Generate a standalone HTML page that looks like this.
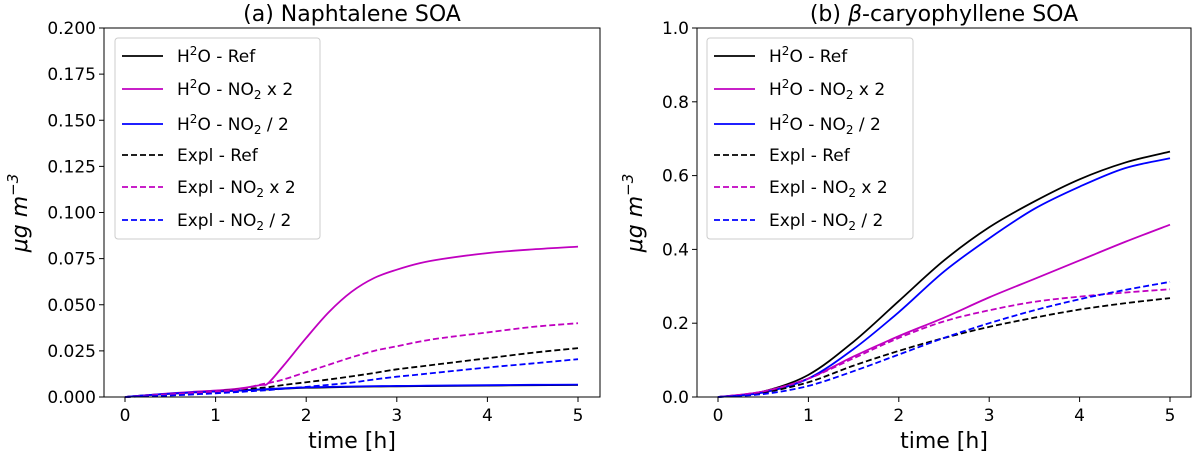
<!DOCTYPE html>
<html><head><meta charset="utf-8"><style>
body{margin:0;background:#fff}
svg text{font-family:"DejaVu Sans","Liberation Sans",sans-serif;fill:#000}
</style></head><body>
<svg id="c" width="1194" height="456" xmlns="http://www.w3.org/2000/svg"></svg>
<script>
const times=[0,0.5,1,1.5,2,2.5,3,3.5,4,4.5,5];
const naphTimes=[0,0.25,0.5,0.75,1,1.25,1.5,1.58,1.75,2,2.25,2.5,2.75,3,3.25,3.5,4,4.5,5];
const naphH2ORef=[0,0.001,0.0018,0.0025,0.003,0.0035,0.004,0.0041,0.0045,0.005,0.0052,0.0055,0.0057,0.0058,0.0059,0.006,0.0062,0.0064,0.0065];
const naphH2Ox2=[0,0.001,0.002,0.0028,0.0035,0.0045,0.0065,0.0075,0.017,0.032,0.046,0.057,0.0645,0.069,0.0725,0.0748,0.078,0.08,0.0815];
const naphH2Oh=[0,0.001,0.0018,0.0025,0.003,0.0035,0.0042,0.0043,0.0047,0.0052,0.0055,0.0057,0.0059,0.006,0.0061,0.0062,0.0064,0.0066,0.0067];
const naphExplRef=[0,0.0005,0.001,0.002,0.003,0.004,0.005,0.0053,0.0065,0.008,0.0095,0.0112,0.013,0.015,0.0165,0.018,0.021,0.024,0.0265];
const naphExplx2=[0,0.0008,0.0015,0.0022,0.003,0.004,0.0068,0.0075,0.0095,0.0135,0.0175,0.0215,0.025,0.0275,0.03,0.032,0.035,0.038,0.04];
const naphExplh=[0,0.0004,0.0008,0.0014,0.002,0.0027,0.0035,0.0037,0.0045,0.0055,0.0066,0.0078,0.0095,0.011,0.0122,0.0135,0.016,0.0182,0.0205];
const caryH2ORef=[0,0.015,0.06,0.15,0.26,0.37,0.46,0.53,0.59,0.635,0.665];
const caryH2Ox2=[0,0.015,0.05,0.11,0.165,0.215,0.27,0.32,0.37,0.42,0.467];
const caryH2Oh=[0,0.012,0.05,0.13,0.23,0.34,0.43,0.51,0.57,0.62,0.647];
const caryExplRef=[0,0.012,0.04,0.085,0.125,0.16,0.19,0.215,0.237,0.254,0.268];
const caryExplx2=[0,0.015,0.05,0.105,0.16,0.205,0.235,0.258,0.272,0.283,0.292];
const caryExplh=[0,0.008,0.03,0.07,0.115,0.16,0.2,0.235,0.265,0.29,0.312];
const naphYTicks=["0.000","0.025","0.050","0.075","0.100","0.125","0.150","0.175","0.200"];
const caryYTicks=["0.0","0.2","0.4","0.6","0.8","1.0"];
const xTicks=[0,1,2,3,4,5];

const svg=document.getElementById('c');
const NS='http://www.w3.org/2000/svg';
function mk(t,a,p){const e=document.createElementNS(NS,t);for(const k in a)e.setAttribute(k,a[k]);(p||svg).appendChild(e);return e;}

function panel(o){
  const g=mk('g',{});
  
  
  const sx=v=>o.x0+(v-0)/(5)*(o.x5-o.x0);
  const sy=v=>o.bottom-(v/o.ymax)*(o.bottom-o.top);
  o.series.forEach(s=>{
    const pts=s.t.map((t,i)=>[sx(t),sy(s.v[i])]);
    let d='M'+pts[0][0]+','+pts[0][1];
    for(let i=0;i<pts.length-1;i++){
      const p0=pts[Math.max(0,i-1)],p1=pts[i],p2=pts[i+1],p3=pts[Math.min(pts.length-1,i+2)];
      const c1=[p1[0]+(p2[0]-p0[0])/6,p1[1]+(p2[1]-p0[1])/6];
      const c2=[p2[0]-(p3[0]-p1[0])/6,p2[1]-(p3[1]-p1[1])/6];
      d+=' C'+c1+' '+c2+' '+p2;
    }
    const p=mk('path',{d:d,fill:'none',stroke:s.c,'stroke-width':1.8,'stroke-dasharray':s.dash?'6,3':'none'},g);
    
    
  });
  const fr=mk('rect',{x:o.left,y:o.top,width:o.right-o.left,height:o.bottom-o.top,fill:'none',stroke:'#000','stroke-width':1},g);
  
  
  xTicks.forEach(v=>{
    mk('line',{x1:sx(v),x2:sx(v),y1:o.bottom,y2:o.bottom+5,stroke:'#000'},g);
    const t=mk('text',{x:sx(v),y:o.bottom+24,'text-anchor':'middle','font-size':17},g);t.textContent=v;
    
    
  });
  o.yt.forEach((lab,i)=>{
    const v=o.ymax*i/(o.yt.length-1);
    mk('line',{x1:o.left-5,x2:o.left,y1:sy(v),y2:sy(v),stroke:'#000'},g);
    const t=mk('text',{x:o.left-8,y:sy(v)+6,'text-anchor':'end','font-size':17},g);t.textContent=lab;
    
    
  });
  const xl=mk('text',{x:(o.left+o.right)/2,y:448,'text-anchor':'middle','font-size':22},g);xl.textContent='time [h]';
  
  
  const yl=mk('text',{transform:`translate(${o.ylx},213) rotate(-90)`,'text-anchor':'middle','font-size':22,'font-style':'italic'},g);
  yl.innerHTML='μg  m<tspan dy="-9" font-size="15">−3</tspan>';
  
  
  const ti=mk('text',{x:(o.left+o.right)/2,y:21,'text-anchor':'middle','font-size':22},g);ti.innerHTML=o.title;
  
  
  const lg=mk('g',{},g);
  
  
  mk('rect',{x:o.lx,y:38,width:o.lw,height:201,rx:3,fill:'#fff',stroke:'#ccc'},lg);
  const labels=['H<tspan dy="-7" font-size="12">2</tspan><tspan dy="7">O - Ref</tspan>',
   'H<tspan dy="-7" font-size="12">2</tspan><tspan dy="7">O - NO</tspan><tspan dy="4" font-size="12">2</tspan><tspan dy="-4"> x 2</tspan>',
   'H<tspan dy="-7" font-size="12">2</tspan><tspan dy="7">O - NO</tspan><tspan dy="4" font-size="12">2</tspan><tspan dy="-4"> / 2</tspan>',
   'Expl - Ref',
   'Expl - NO<tspan dy="4" font-size="12">2</tspan><tspan dy="-4"> x 2</tspan>',
   'Expl - NO<tspan dy="4" font-size="12">2</tspan><tspan dy="-4"> / 2</tspan>'];
  const ys=[56,89,124,155,187,220];
  o.series.forEach((s,i)=>{
    const e=mk('g',{},lg);
    
    
    mk('line',{x1:o.lx+7,x2:o.lx+48,y1:ys[i],y2:ys[i],stroke:s.c,'stroke-width':1.8,'stroke-dasharray':s.dash?'6,3':'none'},e);
    const t=mk('text',{x:o.lx+62,y:ys[i]+6,'font-size':17},e);t.innerHTML=labels[i];
  });
}
function mkSeries(t,a,b,c,d,e,f){return [
 {id:'h2o-ref',t:t,v:a,c:'#000'},{id:'h2o-no2-x2',t:t,v:b,c:'#c000c0'},{id:'h2o-no2-half',t:t,v:c,c:'#0000ff'},
 {id:'expl-ref',t:t,v:d,c:'#000',dash:1},{id:'expl-no2-x2',t:t,v:e,c:'#c000c0',dash:1},{id:'expl-no2-half',t:t,v:f,c:'#0000ff',dash:1}];}
panel({name:'naphthalene-panel',left:104,right:600,top:28,bottom:397,x0:125,x5:578,ymax:0.2,yt:naphYTicks,ylx:27,lx:115,lw:205,
 title:'(a) Naphtalene SOA',series:mkSeries(naphTimes,naphH2ORef,naphH2Ox2,naphH2Oh,naphExplRef,naphExplx2,naphExplh)});
panel({name:'caryophyllene-panel',left:697,right:1191,top:28,bottom:397,x0:718,x5:1170,ymax:1.0,yt:caryYTicks,ylx:642,lx:707,lw:206,
 title:'(b) <tspan font-style="italic">β</tspan>-caryophyllene  SOA',series:mkSeries(times,caryH2ORef,caryH2Ox2,caryH2Oh,caryExplRef,caryExplx2,caryExplh)});
</script>
</body></html>
